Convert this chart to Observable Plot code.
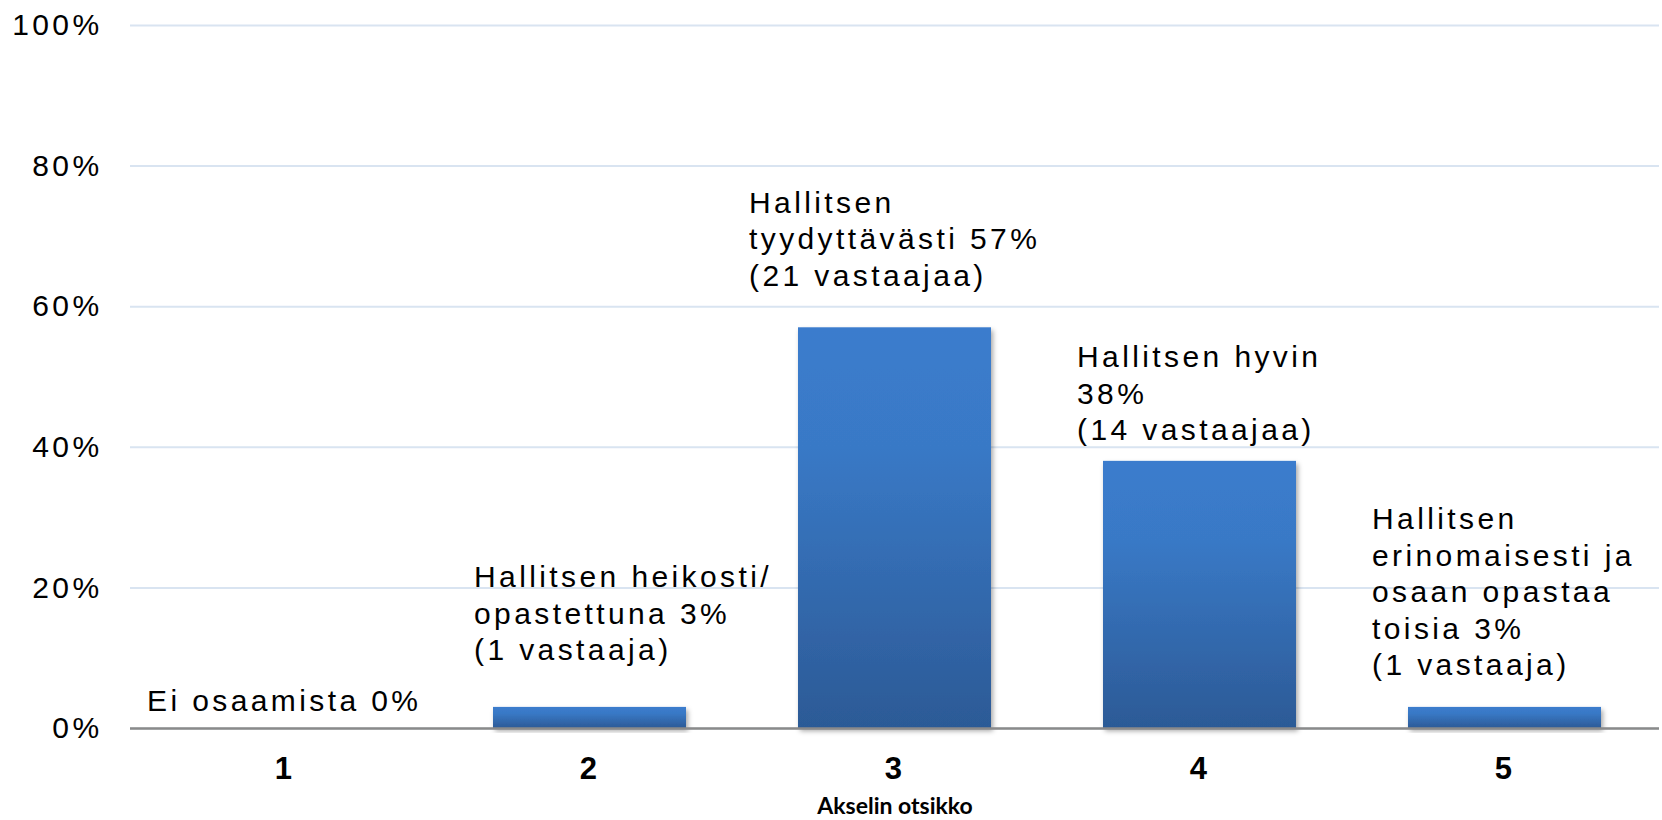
<!DOCTYPE html>
<html>
<head>
<meta charset="utf-8">
<script src="https://cdn.jsdelivr.net/npm/d3@7"></script>
<script src="https://cdn.jsdelivr.net/npm/@observablehq/plot@0.6"></script>
<style>
  html, body { margin: 0; padding: 0; background: #fff; }
  #chart svg text { letter-spacing: 3.4px; }
  #chart svg text.plain { letter-spacing: 0px; }
</style>
</head>
<body>
<div id="chart"></div>
<script>
// ---- data ----
const categories = ["1", "2", "3", "4", "5"];
const values = [0, 0.03, 0.57, 0.38, 0.03];
const labels = [
  "Ei osaamista 0%",
  "Hallitsen heikosti/\nopastettuna 3%\n(1 vastaaja)",
  "Hallitsen\ntyydyttävästi 57%\n(21 vastaajaa)",
  "Hallitsen hyvin\n38%\n(14 vastaajaa)",
  "Hallitsen\nerinomaisesti ja\nosaan opastaa\ntoisia 3%\n(1 vastaaja)"
];
const yTicks = [0, 0.2, 0.4, 0.6, 0.8, 1.0];
const yTickLabels = ["0%", "20%", "40%", "60%", "80%", "100%"];
const xTitle = "Akselin otsikko";

const rows = categories.map((c, i) => ({cat: c, value: values[i], label: labels[i]}));

// per-label manual placement (as in the original chart)
const labelOffsets = [
  {dx: -138, dy: -18},
  {dx: -116, dy: -47},
  {dx: -146, dy: -42},
  {dx: -123, dy: -21},
  {dx: -133, dy: -32}
];

const labelMarks = rows.map((r, i) => Plot.text([r], {
  x: "cat", y: "value", text: "label",
  textAnchor: "start", lineAnchor: "bottom", lineHeight: 1.217,
  dx: labelOffsets[i].dx, dy: labelOffsets[i].dy,
  fill: "#000", fontSize: 30
}));

const chart = Plot.plot({
  width: 1662,
  height: 820,
  marginLeft: 130,
  marginRight: 3,
  marginTop: 25,
  marginBottom: 92,
  style: {fontFamily: "'Liberation Sans', Arial, sans-serif", background: "#fff", color: "#000"},
  x: {domain: categories, paddingInner: 0.366, paddingOuter: 0.183, label: null},
  y: {domain: [0, 1], label: null},
  marks: [
    Plot.gridY(yTicks, {stroke: "#d9e4f1", strokeOpacity: 1, strokeWidth: 2}),
    Plot.barY(rows, {x: "cat", y: "value", fill: "url(#barGrad)"}),
    Plot.ruleY([0], {stroke: "#8a8a8a", strokeWidth: 2.5}),
    Plot.axisY(yTicks, {
      tickSize: 0, tickPadding: 28, fontSize: 30,
      tickFormat: (d) => yTickLabels[yTicks.indexOf(d)], label: null
    }),
    Plot.axisX(categories, {
      tickSize: 0, tickPadding: 28, fontSize: 31, fontWeight: "bold", label: null
    }),
    ...labelMarks,
    Plot.text([xTitle], {
      frameAnchor: "bottom", dy: 78, lineAnchor: "middle",
      fontFamily: "Lato, 'Open Sans', sans-serif", fontWeight: "bold", fontSize: 23,
      fill: "#000"
    })
  ]
});

// gradient + shadow definitions
const svg = d3.select(chart);
const defs = svg.insert("defs", ":first-child");
const grad = defs.append("linearGradient")
  .attr("id", "barGrad").attr("x1", 0).attr("y1", 0).attr("x2", 0).attr("y2", 1);
grad.append("stop").attr("offset", "0%").attr("stop-color", "#3b7ccd");
grad.append("stop").attr("offset", "30%").attr("stop-color", "#3979c6");
grad.append("stop").attr("offset", "100%").attr("stop-color", "#2c5a96");
const filt = defs.append("filter").attr("id", "barShadow")
  .attr("x", "-10%").attr("y", "-10%").attr("width", "130%").attr("height", "130%");
filt.append("feDropShadow").attr("dx", 2).attr("dy", 3).attr("stdDeviation", 2.5)
  .attr("flood-color", "#000").attr("flood-opacity", 0.35);
svg.selectAll("rect").filter(function () {
  const f = this.getAttribute("fill") || (this.parentNode && this.parentNode.getAttribute("fill"));
  return f && f.indexOf("barGrad") >= 0;
}).attr("filter", "url(#barShadow)");
svg.selectAll("text").filter(function () { return this.textContent === xTitle; })
  .classed("plain", true).style("letter-spacing", "0px");

document.getElementById("chart").appendChild(chart);
</script>
</body>
</html>
